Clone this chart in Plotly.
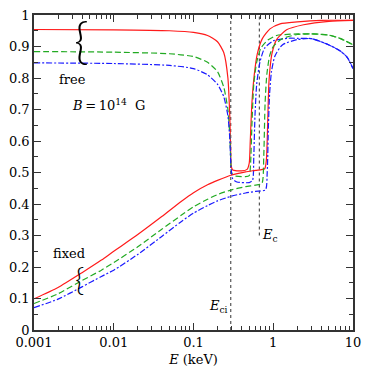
import plotly.graph_objects as go

# photon energy grids (keV) and mode fractions
e_red_free = [0.001, 0.01, 0.05, 0.1, 0.15, 0.2, 0.24, 0.27, 0.285, 0.292, 0.297, 0.31, 0.4, 0.47,
              0.50, 0.515, 0.54, 0.578, 0.63, 0.73, 0.91, 1.22, 2.0, 4.0, 10.0]
y_red_free = [0.954, 0.953, 0.950, 0.945, 0.935, 0.915, 0.88, 0.80, 0.68, 0.58, 0.52, 0.508, 0.505, 0.51,
              0.53, 0.60, 0.72, 0.81, 0.876, 0.925, 0.956, 0.972, 0.978, 0.983, 0.983]

e_green_free = [0.001, 0.01, 0.05, 0.1, 0.15, 0.2, 0.24, 0.27, 0.285, 0.293, 0.30, 0.32, 0.45, 0.50,
                0.52, 0.54, 0.57, 0.62, 0.7, 0.85, 1.1, 2.0, 3.0, 5.0, 7.0, 10.0]
y_green_free = [0.884, 0.882, 0.877, 0.868, 0.85, 0.82, 0.77, 0.70, 0.62, 0.54, 0.50, 0.49, 0.487, 0.49,
                0.53, 0.65, 0.78, 0.85, 0.895, 0.92, 0.935, 0.94, 0.94, 0.936, 0.925, 0.905]

e_blue_free = [0.001, 0.01, 0.05, 0.1, 0.15, 0.2, 0.24, 0.27, 0.285, 0.295, 0.31, 0.35, 0.5, 0.55,
               0.57, 0.59, 0.62, 0.68, 0.78, 1.0, 1.5, 2.0, 3.0, 5.0, 7.0, 8.5, 10.0]
y_blue_free = [0.848, 0.846, 0.84, 0.83, 0.81, 0.78, 0.74, 0.68, 0.61, 0.52, 0.48, 0.47, 0.468, 0.475,
               0.55, 0.68, 0.78, 0.85, 0.895, 0.918, 0.926, 0.926, 0.925, 0.905, 0.885, 0.865, 0.83]

e_red_fixed = [0.001, 0.002, 0.004, 0.007, 0.01, 0.02, 0.04, 0.07, 0.1, 0.15, 0.2, 0.3, 0.45, 0.6,
               0.78, 0.82, 0.85, 0.88, 0.91, 0.96, 1.1, 1.47, 2.4, 5.0, 10.0]
y_red_fixed = [0.099, 0.135, 0.182, 0.222, 0.25, 0.303, 0.36, 0.408, 0.436, 0.461, 0.475, 0.492, 0.502, 0.507,
               0.512, 0.54, 0.65, 0.78, 0.83, 0.876, 0.922, 0.953, 0.969, 0.98, 0.983]

e_green_fixed = [0.001, 0.002, 0.004, 0.007, 0.01, 0.02, 0.04, 0.07, 0.1, 0.15, 0.2, 0.3, 0.45, 0.6,
                 0.72, 0.76, 0.79, 0.83, 0.9, 1.0, 1.3, 2.0, 3.0, 5.0, 7.0, 10.0]
y_green_fixed = [0.084, 0.115, 0.157, 0.19, 0.214, 0.264, 0.32, 0.364, 0.391, 0.415, 0.43, 0.445, 0.455, 0.46,
                 0.465, 0.55, 0.72, 0.81, 0.87, 0.9, 0.925, 0.938, 0.94, 0.936, 0.925, 0.905]

e_blue_fixed = [0.001, 0.002, 0.004, 0.007, 0.01, 0.02, 0.04, 0.07, 0.1, 0.15, 0.2, 0.3, 0.45, 0.6,
                0.8, 0.84, 0.87, 0.9, 0.95, 1.05, 1.3, 2.0, 3.0, 5.0, 7.0, 8.5, 10.0]
y_blue_fixed = [0.071, 0.098, 0.137, 0.17, 0.19, 0.24, 0.297, 0.344, 0.371, 0.395, 0.41, 0.425, 0.435, 0.44,
                0.445, 0.5, 0.65, 0.75, 0.82, 0.87, 0.905, 0.922, 0.925, 0.905, 0.885, 0.865, 0.83]

E_ci = 0.293
E_c = 0.67

x_tickvals = [0.001, 0.01, 0.1, 1, 10]
x_ticktext = ["0.001", "0.01", "0.1", "1", "10"]
y_tickvals = [0, 0.1, 0.2, 0.3, 0.4, 0.5, 0.6, 0.7, 0.8, 0.9, 1]
y_ticktext = ["0", "0.1", "0.2", "0.3", "0.4", "0.5", "0.6", "0.7", "0.8", "0.9", "1"]

RED = "#ff1a1a"
GREEN = "#22aa22"
BLUE = "#1a1aff"
FONT = "DejaVu Serif"

fig = go.Figure()

# cyclotron energies
fig.add_trace(go.Scatter(x=[E_ci, E_ci], y=[0, 1], mode="lines",
                         line=dict(color="#555555", width=1.2, dash="dot"), showlegend=False))
fig.add_trace(go.Scatter(x=[E_c, E_c], y=[0.3, 1], mode="lines",
                         line=dict(color="#555555", width=1.2, dash="dot"), showlegend=False))

curves = [
    (e_red_free, y_red_free, RED, "solid"),
    (e_green_free, y_green_free, GREEN, "6px,3px"),
    (e_blue_free, y_blue_free, BLUE, "6px,2px,2px,2px"),
    (e_red_fixed, y_red_fixed, RED, "solid"),
    (e_green_fixed, y_green_fixed, GREEN, "6px,3px"),
    (e_blue_fixed, y_blue_fixed, BLUE, "6px,2px,2px,2px"),
]
for ex, ey, col, dash in curves:
    fig.add_trace(go.Scatter(x=ex, y=ey, mode="lines", line_shape="spline",
                             line=dict(color=col, width=1.2, dash=dash, smoothing=0.6),
                             showlegend=False))

ann = dict(showarrow=False, font=dict(family=FONT, size=13, color="black"))
fig.add_annotation(x=-2.517, y=0.795, text="free", **ann)
fig.add_annotation(x=-2.07, y=0.714, text="<i>B</i>\u2009=\u200910<sup>14</sup>  G", **ann)
fig.add_annotation(x=-2.56, y=0.242, text="fixed", **ann)
# braces grouping the three curves
fig.add_annotation(x=-2.4, y=0.925, text="{", showarrow=False,
                   font=dict(family="Lato", size=50, color="black", weight=300))
fig.add_annotation(x=-2.43, y=0.162, text="{", showarrow=False,
                   font=dict(family="Lato", size=32, color="black", weight=300))
fig.add_annotation(x=-0.16, y=0.30, text="<i>E</i><sub>c</sub>", xanchor="left", **ann)
fig.add_annotation(x=-0.545, y=0.075, text="<i>E</i><sub>ci</sub>", xanchor="right", **ann)

axis_common = dict(showline=True, linecolor="#333333", linewidth=1.5, mirror="allticks",
                   ticks="inside", ticklen=7, tickwidth=1, tickcolor="#333333",
                   showgrid=False, zeroline=False,
                   tickfont=dict(family=FONT, size=13, color="black"))

fig.update_xaxes(type="log", range=[-3, 1], tickvals=x_tickvals, ticktext=x_ticktext,
                 minor=dict(ticks="inside", ticklen=4, tickcolor="#333333", dtick="D1", showgrid=False),
                 title=dict(text="<i>E</i> (keV)", font=dict(family=FONT, size=13, color="black"),
                            standoff=6),
                 **axis_common)
fig.update_yaxes(range=[0, 1], tickvals=y_tickvals, ticktext=y_ticktext,
                 minor=dict(ticks="inside", ticklen=4, tickcolor="#333333", dtick=0.05, showgrid=False),
                 **axis_common)

fig.update_layout(width=369, height=374, margin=dict(l=34, r=12, t=8, b=44),
                  plot_bgcolor="white", paper_bgcolor="white")

fig.write_html("out.html", config={"displayModeBar": False},
               post_script="document.body.style.margin='0px';")
